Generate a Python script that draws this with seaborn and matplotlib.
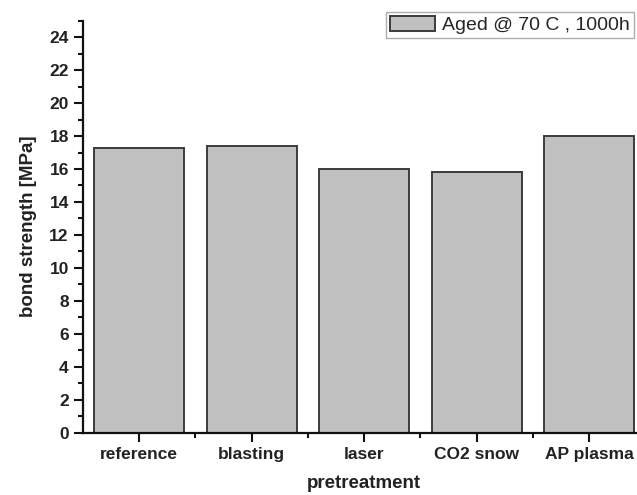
import pandas as pd
import numpy as np
import seaborn as sns
import matplotlib.pyplot as plt
from matplotlib.ticker import MultipleLocator, FixedLocator

PRETREATMENTS = ['reference', 'blasting', 'laser', 'CO2 snow', 'AP plasma']
STRENGTH = [17.3, 17.4, 16.0, 15.8, 18.0]
SERIES = 'Aged @ 70 C , 1000h'

sns.set_style('ticks')
plt.rcParams['font.family'] = ['Liberation Sans', 'DejaVu Sans']

df = pd.DataFrame({'pretreatment': PRETREATMENTS, 'strength': STRENGTH})
df['series'] = SERIES

fig = plt.figure(figsize=(6.37, 4.95), dpi=100)
# axes runs past the right edge, like the cropped original
ax = fig.add_axes([0.1298, 0.1259, 0.8837, 0.8323])

sns.barplot(
    data=df, x='pretreatment', y='strength', hue='series',
    palette=['#c0c0c0'], edgecolor='#3c3c3c', linewidth=1.4,
    width=0.8, saturation=1, ax=ax,
)

ax.set_xlim(-0.5, len(PRETREATMENTS) - 0.5)

# Ticks
ax.yaxis.set_major_locator(MultipleLocator(2))
ax.yaxis.set_minor_locator(MultipleLocator(1))
ax.xaxis.set_minor_locator(FixedLocator(np.arange(0.5, len(PRETREATMENTS) - 1, 1.0)))
ax.tick_params(axis='both', which='major', length=6.5, width=1.5, direction='out',
               labelsize=12.5, pad=3.5, color='#111111')
ax.tick_params(axis='both', which='minor', length=3.5, width=1.5, direction='out',
               color='#111111')

ax.set_ylim(0, 25)
ax.set_yticks(range(0, 25, 2))
for lbl in ax.get_xticklabels() + ax.get_yticklabels():
    lbl.set_fontweight('bold')
    lbl.set_color('#222222')

# Spines
sns.despine(ax=ax)
for side in ['left', 'bottom']:
    ax.spines[side].set_linewidth(1.6)
    ax.spines[side].set_color('#111111')

ax.set_xlabel('pretreatment', fontsize=13.5, fontweight='bold', labelpad=10, color='#222222')
ax.set_ylabel('bond strength [MPa]', fontsize=13.5, fontweight='bold', labelpad=9, color='#222222')

# Legend
leg = ax.legend(
    loc='upper right', bbox_to_anchor=(634 / 637, 1 - 11.7 / 495),
    bbox_transform=fig.transFigure, borderaxespad=0, fancybox=False,
    fontsize=14, handlelength=2.3, handleheight=0.85, handletextpad=0.4,
    borderpad=0.2, frameon=True,
)
leg.get_frame().set_edgecolor('#999999')
leg.get_frame().set_linewidth(1.0)

fig.savefig('out.png', dpi=100)
